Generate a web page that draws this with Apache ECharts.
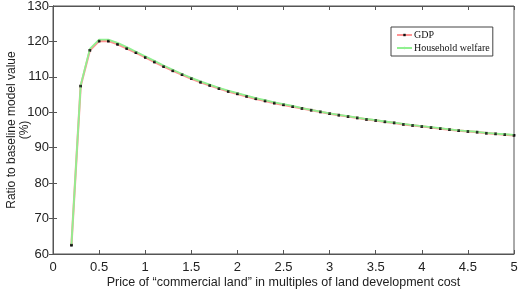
<!DOCTYPE html>
<html>
<head>
<meta charset="utf-8">
<script src="https://cdn.jsdelivr.net/npm/echarts@6/dist/echarts.min.js"></script>
<style>
  html, body { margin: 0; padding: 0; background: #fff; }
  #chart { width: 520px; height: 290px; }
</style>
</head>
<body>
<div id="chart"></div>
<script>
// price of commercial land, multiples of development cost
var price = [0.2, 0.3, 0.4, 0.5, 0.6, 0.7, 0.8, 0.9, 1.0, 1.1, 1.2, 1.3, 1.4, 1.5, 1.6, 1.7, 1.8, 1.9,
  2.0, 2.1, 2.2, 2.3, 2.4, 2.5, 2.6, 2.7, 2.8, 2.9, 3.0, 3.1, 3.2, 3.3, 3.4, 3.5, 3.6, 3.7, 3.8, 3.9,
  4.0, 4.1, 4.2, 4.3, 4.4, 4.5, 4.6, 4.7, 4.8, 4.9, 5.0];
var gdp = [62.5, 107.4, 117.5, 120.1, 120.1, 119.2, 118.0, 116.8, 115.5, 114.2, 112.9, 111.7, 110.6, 109.5,
  108.5, 107.6, 106.7, 105.9, 105.2, 104.5, 103.8, 103.2, 102.6, 102.1, 101.6, 101.1, 100.6, 100.1,
  99.6, 99.2, 98.8, 98.4, 98.0, 97.7, 97.3, 97.0, 96.6, 96.3, 96.0, 95.7, 95.4, 95.1, 94.8, 94.6,
  94.4, 94.1, 93.9, 93.7, 93.5];
var welfare = [62.6, 107.6, 117.9, 120.5, 120.5, 119.6, 118.4, 117.1, 115.8, 114.5, 113.2, 112.0, 110.8, 109.7,
  108.7, 107.8, 106.9, 106.1, 105.4, 104.7, 104.0, 103.4, 102.8, 102.3, 101.8, 101.2, 100.7, 100.2,
  99.7, 99.3, 98.9, 98.5, 98.1, 97.8, 97.4, 97.1, 96.7, 96.4, 96.1, 95.8, 95.5, 95.2, 94.9, 94.7,
  94.5, 94.2, 94.0, 93.8, 93.6];

function pairs(ys) {
  return price.map(function (x, i) { return [x, ys[i]]; });
}

var axisColor = '#555';
var labelFont = { color: '#222', fontSize: 13, fontFamily: 'Liberation Sans, Arial, sans-serif' };

var chart = echarts.init(document.getElementById('chart'));
chart.setOption({
  animation: false,
  backgroundColor: '#fff',
  grid: {
    left: 53, right: 6, top: 6, bottom: 36,
    containLabel: false, outerBoundsMode: 'none',
    show: true, borderColor: axisColor, borderWidth: 1
  },
  legend: {
    data: ['GDP', 'Household welfare'],
    orient: 'vertical',
    left: 391,
    top: 27,
    itemWidth: 15,
    itemHeight: 3,
    itemGap: 3,
    padding: [3, 3, 3, 5],
    borderColor: '#444',
    borderWidth: 1,
    backgroundColor: '#fff',
    textStyle: { color: '#111', fontSize: 10, lineHeight: 9, fontFamily: 'Liberation Serif, Times New Roman, serif', padding: [0, 0, 0, -3] }
  },
  xAxis: [{
    type: 'value', min: 0, max: 5, interval: 0.5,
    name: 'Price of \u201ccommercial land\u201d in multiples of land development cost',
    nameLocation: 'middle', nameGap: 22, nameMoveOverlap: false,
    nameTextStyle: { color: '#222', fontSize: 12.5, verticalAlign: 'top', fontFamily: 'Liberation Sans, Arial, sans-serif' },
    axisLine: { lineStyle: { color: axisColor } },
    axisTick: { inside: true, length: 4, lineStyle: { color: axisColor } },
    axisLabel: Object.assign({ margin: 7 }, labelFont),
    splitLine: { show: false }
  }, {
    type: 'value', min: 0, max: 5, interval: 0.5, position: 'top',
    axisLine: { lineStyle: { color: axisColor } },
    axisTick: { inside: true, length: 4, lineStyle: { color: axisColor } },
    axisLabel: { show: false },
    splitLine: { show: false }
  }],
  yAxis: [{
    type: 'value', min: 60, max: 130, interval: 10,
    name: 'Ratio to baseline model value\n(%)',
    nameLocation: 'middle', nameGap: 22, nameRotate: 90, nameMoveOverlap: false,
    nameTextStyle: { color: '#222', fontSize: 12, lineHeight: 13, verticalAlign: 'bottom', fontFamily: 'Liberation Sans, Arial, sans-serif' },
    axisLine: { lineStyle: { color: axisColor } },
    axisTick: { inside: true, length: 4, lineStyle: { color: axisColor } },
    axisLabel: Object.assign({ margin: 4 }, labelFont),
    splitLine: { show: false }
  }, {
    type: 'value', min: 60, max: 130, interval: 10, position: 'right',
    axisLine: { lineStyle: { color: axisColor } },
    axisTick: { inside: true, length: 4, lineStyle: { color: axisColor } },
    axisLabel: { show: false },
    splitLine: { show: false }
  }],
  series: [{
    name: 'GDP',
    type: 'line',
    z: 2,
    data: pairs(gdp),
    symbol: 'rect',
    symbolSize: 2.5,
    itemStyle: { color: '#111' },
    lineStyle: { color: '#ff9494', width: 2.2 }
  }, {
    name: 'Household welfare',
    type: 'line',
    z: 3,
    data: pairs(welfare),
    showSymbol: false,
    symbol: 'none',
    itemStyle: { color: '#90f090' },
    lineStyle: { color: '#90f090', width: 1.8 }
  }, {
    // GDP markers drawn above the welfare line
    name: 'GDP points',
    type: 'scatter',
    z: 4,
    data: pairs(gdp),
    symbol: 'rect',
    symbolSize: 2.5,
    itemStyle: { color: '#111' },
    silent: true
  }]
});
</script>
</body>
</html>
